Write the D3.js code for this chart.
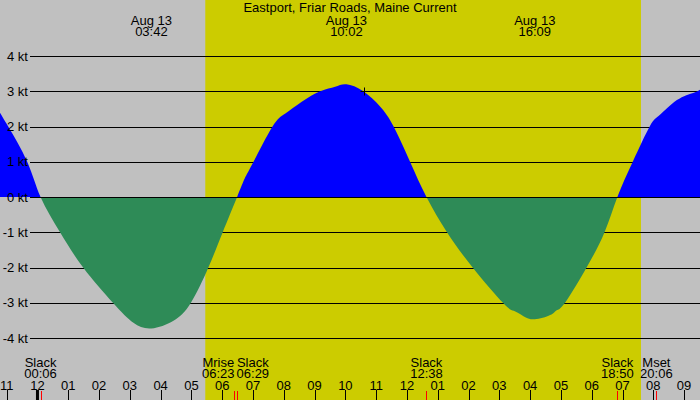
<!DOCTYPE html>
<html>
<head>
<meta charset="utf-8">
<script src="https://cdn.jsdelivr.net/npm/d3@7"></script>
<style>
  body { margin: 0; background: #c0c0c0; }
  text { font-family: "Liberation Sans", Arial, sans-serif; font-size: 13px; fill: #000; }
</style>
</head>
<body>
<svg id="chart" width="700" height="400"></svg>
<script>
// chart data
var title = "Eastport, Friar Roads, Maine Current";
var viewStart = "08-12 22:47", viewEnd = "08-13 21:31";
var sunrise = "08-13 05:27", sunset = "08-13 19:36";

var flowTimes = ["08-12 22:47", "08-12 23:03", "08-12 23:40", "08-13 00:06", "08-13 00:44",
  "08-13 01:29", "08-13 02:27", "08-13 03:07", "08-13 03:42", "08-13 04:25",
  "08-13 04:59", "08-13 05:33", "08-13 06:01", "08-13 06:29", "08-13 06:44",
  "08-13 07:01", "08-13 07:38", "08-13 08:03", "08-13 08:35", "08-13 09:11", "08-13 09:40",
  "08-13 10:02", "08-13 10:35", "08-13 11:08", "08-13 11:34", "08-13 12:06", "08-13 12:38",
  "08-13 13:18", "08-13 14:08", "08-13 15:07", "08-13 15:28", "08-13 15:47", "08-13 16:09",
  "08-13 16:39", "08-13 16:52", "08-13 17:08", "08-13 17:50", "08-13 18:25", "08-13 18:50",
  "08-13 19:20", "08-13 19:53", "08-13 20:13", "08-13 20:46", "08-13 21:19", "08-13 21:31"];
var flowKnots = [2.39, 2.0, 1.0, 0, -1,
  -2, -3, -3.57, -3.73, -3.51,
  -3, -2, -1, 0, 0.53,
  1.0, 2.0, 2.37, 2.70, 3.0, 3.13,
  3.2, 3.0, 2.56, 2.0, 1.0, 0,
  -1, -2, -3, -3.23, -3.38, -3.47,
  -3.35, -3.21, -3, -2, -1, 0,
  1.0, 2.0, 2.33, 2.75, 2.96, 3.04];

var peakTimes = ["08-13 03:42", "08-13 10:02", "08-13 16:09"];
var peakDays = ["Aug 13", "Aug 13", "Aug 13"];
var peakClock = ["03:42", "10:02", "16:09"];

var eventNames = ["Slack", "Mrise", "Slack", "Slack", "Slack", "Mset"];
var eventTimes = ["08-13 00:06", "08-13 06:23", "08-13 06:29", "08-13 12:38", "08-13 18:50", "08-13 20:06"];
var eventClock = ["00:06", "06:23", "06:29", "12:38", "18:50", "20:06"];

var knotTicks = [4, 3, 2, 1, 0, -1, -2, -3, -4];
var markTime = "08-13 10:36", markKnots = 3.0;

var parse = d3.timeParse("%m-%d %H:%M");
var W = 700, H = 400;
var svg = d3.select("#chart");

var x = d3.scaleTime().domain([parse(viewStart), parse(viewEnd)]).range([0, W]);
var y = d3.scaleLinear().domain([-4, 4]).range([338, 56]);

var flow = flowTimes.map(function(t, i) { return { t: parse(t), v: flowKnots[i] }; });

// night / day background
svg.append("rect").attr("width", W).attr("height", H).attr("fill", "#c0c0c0");
svg.append("rect")
  .attr("x", x(parse(sunrise))).attr("y", 0)
  .attr("width", x(parse(sunset)) - x(parse(sunrise))).attr("height", H)
  .attr("fill", "#cccc00");

// grid lines
svg.append("g").selectAll("line")
  .data(knotTicks)
  .enter().append("line")
  .attr("x1", 30).attr("x2", W)
  .attr("y1", function(d) { return Math.round(y(d)) + 0.5; })
  .attr("y2", function(d) { return Math.round(y(d)) + 0.5; })
  .attr("stroke", "#000").attr("stroke-width", 1);

// flood above zero in blue, ebb below zero in green
var defs = svg.append("defs");
defs.append("clipPath").attr("id", "above")
  .append("rect").attr("x", 0).attr("y", 0).attr("width", W).attr("height", y(0));
defs.append("clipPath").attr("id", "below")
  .append("rect").attr("x", 0).attr("y", y(0)).attr("width", W).attr("height", H - y(0));

var area = d3.area()
  .x(function(d) { return x(d.t); })
  .y0(y(0))
  .y1(function(d) { return y(d.v); })
  .curve(d3.curveNatural);

svg.append("path").datum(flow).attr("d", area)
  .attr("fill", "#0000ff").attr("clip-path", "url(#above)");
svg.append("path").datum(flow).attr("d", area)
  .attr("fill", "#2e8b57").attr("clip-path", "url(#below)");

svg.append("line")
  .attr("x1", 30).attr("x2", W)
  .attr("y1", Math.round(y(0)) + 0.5).attr("y2", Math.round(y(0)) + 0.5)
  .attr("stroke", "#000");

// knot labels
svg.append("g").selectAll("text")
  .data(knotTicks)
  .enter().append("text")
  .attr("x", 28).attr("y", function(d) { return y(d); })
  .attr("dy", "0.36em")
  .attr("text-anchor", "end")
  .text(function(d) { return d + " kt"; });

// marker cross
var mx = Math.round(x(parse(markTime))) + 0.5, my = Math.round(y(markKnots)) + 0.5;
svg.append("path")
  .attr("d", "M" + (mx - 4) + "," + my + "H" + (mx + 4) + "M" + mx + "," + (my - 4) + "V" + (my + 4))
  .attr("stroke", "#000").attr("stroke-width", 1);

// title and max current labels
svg.append("text").attr("x", W / 2).attr("y", 12)
  .attr("text-anchor", "middle").text(title);

var peaks = svg.append("g").selectAll("g")
  .data(peakTimes)
  .enter().append("g")
  .attr("transform", function(d) { return "translate(" + x(parse(d)) + ",0)"; });
peaks.append("text").attr("y", 25).attr("text-anchor", "middle")
  .text(function(d, i) { return peakDays[i]; });
peaks.append("text").attr("y", 36).attr("text-anchor", "middle")
  .text(function(d, i) { return peakClock[i]; });

// hour ticks along the bottom
var hours = x.ticks(d3.timeHour.every(1));
var fmtHour = d3.timeFormat("%I");
svg.append("g").selectAll("line")
  .data(hours)
  .enter().append("line")
  .attr("x1", function(d) { return Math.round(x(d)) + 0.5; })
  .attr("x2", function(d) { return Math.round(x(d)) + 0.5; })
  .attr("y1", 390).attr("y2", H)
  .attr("stroke", "#000");
svg.append("g").selectAll("text")
  .data(hours)
  .enter().append("text")
  .attr("x", function(d) { return x(d); })
  .attr("y", 390)
  .attr("text-anchor", "middle")
  .text(function(d) { return fmtHour(d); });

// midnight marker
svg.append("g").selectAll("rect")
  .data(hours.filter(function(d) { return d.getHours() === 0; }))
  .enter().append("rect")
  .attr("x", function(d) { return x(d) - 1.5; })
  .attr("y", 390).attr("width", 3).attr("height", 10)
  .attr("fill", "#000");

// events: red ticks and two-line labels
svg.append("g").selectAll("line")
  .data(eventTimes)
  .enter().append("line")
  .attr("x1", function(d) { return Math.round(x(parse(d))) + 0.5; })
  .attr("x2", function(d) { return Math.round(x(parse(d))) + 0.5; })
  .attr("y1", 391).attr("y2", H)
  .attr("stroke", "#ff0000");

var ev = svg.append("g").selectAll("g")
  .data(eventTimes)
  .enter().append("g");
ev.append("text").attr("y", 366.5).attr("text-anchor", "middle")
  .text(function(d, i) { return eventNames[i]; });
ev.append("text").attr("y", 378).attr("text-anchor", "middle")
  .text(function(d, i) { return eventClock[i]; });

// push overlapping labels apart
var labels = [];
ev.each(function(d) {
  var w = 0;
  d3.select(this).selectAll("text").each(function() { w = Math.max(w, this.getComputedTextLength()); });
  labels.push({ node: this, cx: x(parse(d)), w: w });
});
for (var pass = 0; pass < 5; pass++) {
  for (var i = 1; i < labels.length; i++) {
    var a = labels[i - 1], b = labels[i];
    var overlap = (a.cx + a.w / 2 + 2) - (b.cx - b.w / 2);
    if (overlap > 0) { a.cx -= overlap / 2; b.cx += overlap / 2; }
  }
}
labels.forEach(function(l) {
  d3.select(l.node).attr("transform", "translate(" + l.cx + ",0)");
});
</script>
</body>
</html>
